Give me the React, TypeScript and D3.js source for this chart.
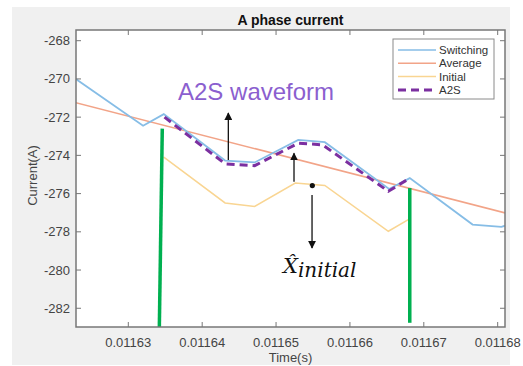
import React from 'react';
import * as d3 from 'd3';

// values
const switchT = [0.0116229, 0.011632, 0.0116348, 0.0116431, 0.0116471, 0.011653, 0.0116566, 0.0116653, 0.0116681, 0.0116766, 0.0116805, 0.011681];
const switchV = [-270.0, -272.45, -271.84, -274.27, -274.37, -273.19, -273.31, -275.76, -275.19, -277.62, -277.74, -277.68];

const averageT = [0.0116229, 0.011681];
const averageV = [-271.24, -277.01];

const initialT = [0.0116348, 0.0116431, 0.0116471, 0.0116526, 0.0116566, 0.0116652, 0.0116679];
const initialV = [-274.09, -276.49, -276.67, -275.45, -275.57, -277.97, -277.36];

const a2sT = [0.0116349, 0.0116431, 0.0116471, 0.011653, 0.0116563, 0.0116652, 0.0116679];
const a2sV = [-272.0, -274.44, -274.54, -273.36, -273.45, -275.88, -275.24];

// green window markers
const markerT = [[0.0116346, 0.0116342], [0.0116681, 0.0116681]];
const markerV = [[-272.6, -283], [-275.71, -282.76]];

const xTicks = [0.01163, 0.01164, 0.01165, 0.01166, 0.01167, 0.01168];
const yTicks = [-282, -280, -278, -276, -274, -272, -270, -268];

const legendNames = ['Switching', 'Average', 'Initial', 'A2S'];
const colors = ['#86bde6', '#f2a488', '#f9d592', '#7b2fa0'];

// annotation arrows: [t, vFrom, vTo]
const arrows = [
  [0.01164354, -274.24, -271.78],
  [0.01165243, -275.38, -273.89],
  [0.01165487, -276.07, -278.85],
];
const dotPoint = [0.01165491, -275.58];
const waveLabelPos = [0.01163673, -271.1];
const xhatPos = [0.01165094, -280.15];

const W = 523;
const H = 366;
const margin = { left: 76, right: 18, top: 30, bottom: 39 };

export default function App() {
  const x = d3.scaleLinear().domain([0.01162292, 0.01168099]).range([margin.left, W - margin.right]);
  const y = d3.scaleLinear().domain([-282.98, -267.44]).range([H - margin.bottom, margin.top]);

  const line = d3.line<[number, number]>().x(d => x(d[0])).y(d => y(d[1]));
  const zip = (t: number[], v: number[]) => t.map((tt, i) => [tt, v[i]] as [number, number]);

  const x0 = margin.left, x1 = W - margin.right, y0 = margin.top, y1 = H - margin.bottom;
  const font = 'Arial, "Liberation Sans", Helvetica, sans-serif';
  const tickLen = 5;
  const axisColor = '#777';

  return (
    <svg width={W} height={H} style={{ position: 'absolute', left: 0, top: 0, background: '#fff' }}>
      <defs>
        <marker id="ah" viewBox="0 0 10 10" refX="9" refY="5" markerWidth="8" markerHeight="8" markerUnits="userSpaceOnUse" orient="auto">
          <path d="M0,0 L10,5 L0,10 z" fill="#111" />
        </marker>
        <clipPath id="plot">
          <rect x={x0} y={y0} width={x1 - x0} height={y1 - y0} />
        </clipPath>
      </defs>
      <rect x={12} y={7} width={498} height={358} fill="#f0f0f0" />
      <rect x={x0} y={y0} width={x1 - x0} height={y1 - y0} fill="#fff" />

      <text x={(x0 + x1) / 2} y={25} textAnchor="middle" fontFamily={font} fontWeight="bold" fontSize={14} fill="#111">A phase current</text>

      <g clipPath="url(#plot)">
        <path d={line(zip(averageT, averageV)) || ''} fill="none" stroke={colors[1]} strokeWidth={1.5} />
        <path d={line(zip(initialT, initialV)) || ''} fill="none" stroke={colors[2]} strokeWidth={1.5} />
        <path d={line(zip(switchT, switchV)) || ''} fill="none" stroke={colors[0]} strokeWidth={1.8} />
        <path d={line(zip(a2sT, a2sV)) || ''} fill="none" stroke={colors[3]} strokeWidth={3} strokeDasharray="8,5" />
        {markerT.map((t, i) => (
          <line key={i} x1={x(t[0])} x2={x(t[1])} y1={y(markerV[i][0])} y2={y(markerV[i][1])} stroke="#00b050" strokeWidth={3.5} />
        ))}
      </g>

      {/* axes box and ticks */}
      <rect x={x0} y={y0} width={x1 - x0} height={y1 - y0} fill="none" stroke={axisColor} strokeWidth={1.5} />
      {xTicks.map(t => (
        <g key={t}>
          <line x1={x(t)} x2={x(t)} y1={y1} y2={y1 - tickLen} stroke={axisColor} />
          <line x1={x(t)} x2={x(t)} y1={y0} y2={y0 + tickLen} stroke={axisColor} />
          <text x={x(t)} y={y1 + 20} textAnchor="middle" fontFamily={font} fontSize={13} fill="#444">{d3.format('.5f')(t)}</text>
        </g>
      ))}
      {yTicks.map(v => (
        <g key={v}>
          <line x1={x0} x2={x0 + tickLen} y1={y(v)} y2={y(v)} stroke={axisColor} />
          <line x1={x1} x2={x1 - tickLen} y1={y(v)} y2={y(v)} stroke={axisColor} />
          <text x={x0 - 6} y={y(v) + 4.5} textAnchor="end" fontFamily={font} fontSize={13} fill="#444">{String(v)}</text>
        </g>
      ))}
      <text x={(x0 + x1) / 2} y={362} textAnchor="middle" fontFamily={font} fontSize={13} fill="#444">Time(s)</text>
      <text transform={`translate(37,${(y0 + y1) / 2 - 3}) rotate(-90)`} textAnchor="middle" fontFamily={font} fontSize={13} fill="#444">Current(A)</text>

      {/* legend */}
      <g transform="translate(393,39)">
        <rect width={101} height={60} fill="#fff" stroke="#8a8a8a" strokeWidth={1} />
        {legendNames.map((name, i) => (
          <g key={name} transform={`translate(0,${11 + i * 13.3})`}>
            <line x1={5} x2={43} y1={0} y2={0} stroke={colors[i]} strokeWidth={i === 3 ? 3 : 1.5} strokeDasharray={i === 3 ? '8,5' : undefined} />
            <text x={46} y={4} fontFamily={font} fontSize={11.5} fill="#333">{name}</text>
          </g>
        ))}
      </g>

      {/* annotations */}
      <text x={x(waveLabelPos[0])} y={y(waveLabelPos[1])} fontFamily={font} fontSize={24} fill="#8b5fcf">A2S waveform</text>
      {arrows.map((a, i) => (
        <line key={i} x1={x(a[0])} x2={x(a[0])} y1={y(a[1])} y2={y(a[2])} stroke="#111" strokeWidth={1.3} markerEnd="url(#ah)" />
      ))}
      <circle cx={x(dotPoint[0])} cy={y(dotPoint[1])} r={2.6} fill="#111" />
      <text x={x(xhatPos[0])} y={y(xhatPos[1])} fontFamily='"DejaVu Serif", "Liberation Serif", serif' fontStyle="italic" fill="#111">
        <tspan fontSize={21}>X̂</tspan>
        <tspan fontSize={20} dy={4}>initial</tspan>
      </text>
    </svg>
  );
}
